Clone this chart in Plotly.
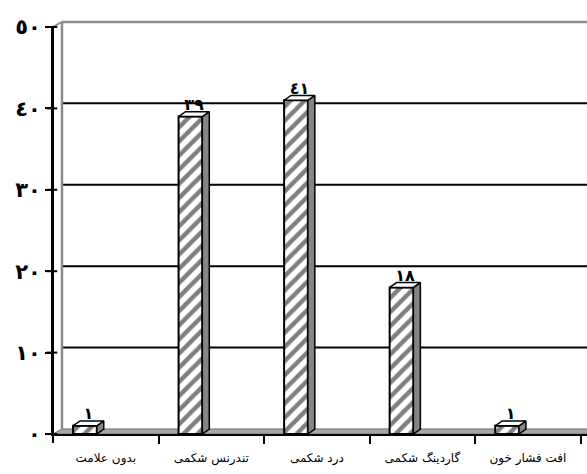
import plotly.graph_objects as go

categories = ["بدون علامت", "تندرنس شکمی", "درد شکمی", "گاردینگ شکمی", "افت فشار خون"]
values = [1, 39, 41, 18, 1]
value_labels = ["١", "٣٩", "٤١", "١٨", "١"]
y_tickvals = [0, 10, 20, 30, 40, 50]
y_ticktext = ["٠", "١٠", "٢٠", "٣٠", "٤٠", "٥٠"]

idx = list(range(len(categories)))
X0, X1 = -0.5, 4.56
Y0, Y1 = 0, 50
bar_off, bar_w = -0.31, 0.225
bdx, bdy = 0.066, 0.6      # bar depth
wdx, wdy = 0.085, 0.62     # wall depth


def px(x):
    return (x - X0) / (X1 - X0)


def py(y):
    return (y - Y0) / (Y1 - Y0)


fig = go.Figure()

# bars front
fig.add_trace(go.Bar(
    x=idx, y=values, width=bar_w, offset=bar_off,
    marker=dict(color="white",
                pattern=dict(shape="/", fgcolor="black", bgcolor="white", size=10, solidity=0.45),
                line=dict(color="black", width=2)),
    hoverinfo="skip", showlegend=False))

# side faces and top faces
sx, sy, tx, ty = [], [], [], []
for i, v in zip(idx, values):
    xl = i + bar_off
    xr = xl + bar_w
    sx += [xr, xr + bdx, xr + bdx, xr, xr, None]
    sy += [0, bdy, v + bdy, v, 0, None]
    tx += [xl, xl + bdx, xr + bdx, xr, xl, None]
    ty += [v, v + bdy, v + bdy, v, v, None]
fig.add_trace(go.Scatter(x=sx, y=sy, fill="toself", fillcolor="#858585", mode="lines",
                         line=dict(color="black", width=1.5), hoverinfo="skip", showlegend=False))
fig.add_trace(go.Scatter(x=tx, y=ty, fill="toself", fillcolor="white", mode="lines",
                         line=dict(color="black", width=1.5), hoverinfo="skip", showlegend=False))

# value labels
fig.add_trace(go.Scatter(
    x=[i + bar_off + (bar_w + bdx) / 2 for i in idx],
    y=[v + bdy - 0.3 for v in values],
    mode="text", text=value_labels, textposition="top center",
    textfont=dict(family="DejaVu Sans", size=16, color="black", weight="bold"),
    hoverinfo="skip", showlegend=False, cliponaxis=False))

shapes = []
# floor (3D base)
shapes.append(dict(type="path", xref="paper", yref="paper",
                   path=f"M {px(X0)},{py(0)} L {px(X0 + wdx)},{py(wdy)} L {px(X1) + 0.01},{py(wdy)} "
                        f"L {px(X1) + 0.01},{py(0)} Z",
                   fillcolor="#a6a6a6", line=dict(color="#6e6e6e", width=1), layer="below"))
# back wall gridlines
for v in y_tickvals[1:-1]:
    shapes.append(dict(type="line", xref="paper", yref="paper", x0=px(X0 + wdx), x1=1.01,
                       y0=py(v + wdy), y1=py(v + wdy),
                       line=dict(color="black", width=2), layer="below"))
# back wall top edge and left wall
shapes.append(dict(type="line", xref="paper", yref="paper", x0=px(X0 + wdx), x1=1.01,
                   y0=py(Y1 + wdy), y1=py(Y1 + wdy), line=dict(color="#8a8a8a", width=2.5)))
shapes.append(dict(type="line", xref="paper", yref="paper", x0=px(X0 + wdx), x1=px(X0 + wdx),
                   y0=py(wdy), y1=py(Y1 + wdy), line=dict(color="#8a8a8a", width=2.5)))
shapes.append(dict(type="line", xref="paper", yref="paper", x0=px(X0), x1=px(X0 + wdx),
                   y0=py(Y1), y1=py(Y1 + wdy), line=dict(color="#8a8a8a", width=2)))
# front axis line (extends slightly below the floor)
shapes.append(dict(type="line", xref="paper", yref="paper", x0=0, x1=0,
                   y0=py(-1.1), y1=py(Y1), line=dict(color="black", width=2)))
# y ticks
for v in y_tickvals:
    shapes.append(dict(type="line", xref="paper", yref="paper", x0=-0.012, x1=0.008,
                       y0=py(v), y1=py(v), line=dict(color="black", width=2)))

fig.update_layout(
    width=587, height=474,
    margin=dict(l=53, r=0, t=27, b=40),
    plot_bgcolor="rgba(0,0,0,0)", paper_bgcolor="white",
    shapes=shapes,
    xaxis=dict(range=[X0, X1], tickvals=idx, ticktext=categories, ticks="",
               showgrid=False, zeroline=False, showline=True, linecolor="black", linewidth=2,
               tickfont=dict(family="DejaVu Serif, DejaVu Sans", size=12, color="black"),
               ticklabelstandoff=12,
               minor=dict(tickmode="array", tickvals=[i + 0.5 for i in idx], ticks="outside",
                          ticklen=8, tickwidth=2, tickcolor="black", showgrid=False)),
    yaxis=dict(range=[Y0, Y1], tickvals=y_tickvals, ticktext=y_ticktext,
               ticks="outside", ticklen=6, tickwidth=2, tickcolor="black",
               showgrid=False, zeroline=False, showline=True, linecolor="black", linewidth=2,
               tickfont=dict(family="DejaVu Sans", size=21, color="black", weight="bold")),
    showlegend=False,
)

fig.write_html("out.html")
